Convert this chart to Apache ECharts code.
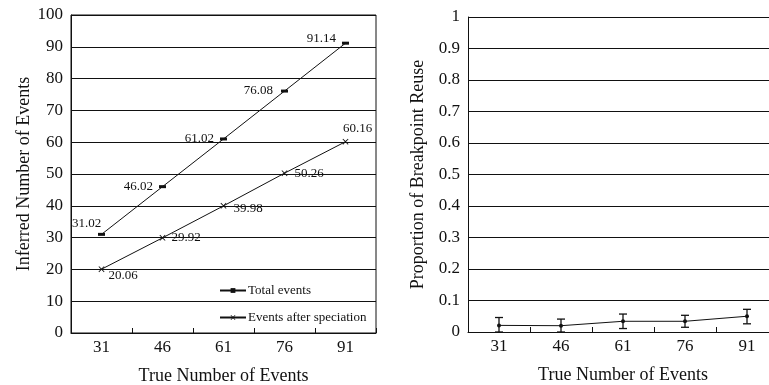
<!DOCTYPE html>
<html>
<head>
<meta charset="utf-8">
<script src="https://cdn.jsdelivr.net/npm/echarts@6/dist/echarts.min.js"></script>
<style>
    html, body { margin: 0; padding: 0; background: #fff; }
    #chart { width: 769px; height: 385px; }
</style>
</head>
<body>
<div id="chart"></div>
<script>
// 数据
const categories = ['31', '46', '61', '76', '91']
const totalEvents = [31.02, 46.02, 61.02, 76.08, 91.14]
const afterSpeciation = [20.06, 29.92, 39.98, 50.26, 60.16]
const reuseMean = [0.021, 0.020, 0.034, 0.034, 0.050]
const reuseLow = [0.0, 0.0, 0.011, 0.015, 0.026]
const reuseHigh = [0.046, 0.041, 0.057, 0.053, 0.072]

const FONT = 'Liberation Serif'
const INK = '#111'

// 每个标签的位置
const totalLabelPos = [
    { position: 'top', distance: 3, offset: [-15, 0] },
    { position: 'left', distance: 6 },
    { position: 'left', distance: 6 },
    { position: 'left', distance: 8 },
    { position: 'left', distance: 6, offset: [0, -5] }
]
const afterLabelPos = [
    { position: 'right', distance: 4, offset: [0, 6] },
    { position: 'right', distance: 6 },
    { position: 'right', distance: 7, offset: [0, 3] },
    { position: 'right', distance: 7 },
    { position: 'top', distance: 4, offset: [12, 0] }
]

const crossSymbol = 'path://M0,1L1,0L5,4L9,0L10,1L6,5L10,9L9,10L5,6L1,10L0,9L4,5Z'

function axisCommon() {
    return {
        axisLine: { show: true, lineStyle: { color: INK, width: 1 } },
        axisLabel: { color: INK, fontFamily: FONT, fontSize: 17 },
        nameTextStyle: { color: INK, fontFamily: FONT, fontSize: 18 },
        splitLine: { show: true, lineStyle: { color: INK, width: 1 } }
    }
}

function xAxis(gridIndex) {
    let base = axisCommon()
    return Object.assign(base, {
        type: 'category',
        gridIndex: gridIndex,
        data: categories,
        boundaryGap: true,
        name: 'True Number of Events',
        nameLocation: 'middle',
        nameGap: 34,
        axisTick: { show: true, inside: true, length: 5, lineStyle: { color: INK, width: 1 } },
        axisLabel: Object.assign(base.axisLabel, { margin: 6 }),
        splitLine: { show: false }
    })
}

function yAxis(gridIndex, max, interval, name, gap, fmt) {
    let base = axisCommon()
    return Object.assign(base, {
        type: 'value',
        gridIndex: gridIndex,
        min: 0,
        max: max,
        interval: interval,
        name: name,
        nameLocation: 'middle',
        nameGap: gap,
        axisTick: { show: false },
        axisLabel: Object.assign(base.axisLabel, { margin: 8, formatter: fmt })
    })
}

let chart = echarts.init(document.getElementById('chart'), null, { renderer: 'canvas' })

let option = {
    animation: false,
    backgroundColor: '#fff',
    textStyle: { fontFamily: FONT },
    grid: [
        { left: 71, top: 15, width: 305, height: 318, show: true, borderColor: INK, borderWidth: 1, outerBoundsMode: 'none' },
        { left: 468, top: 17, width: 310, height: 315, outerBoundsMode: 'none' }
    ],
    legend: {
        left: 214,
        top: 279,
        orient: 'vertical',
        itemWidth: 26,
        itemHeight: 6,
        itemGap: 14,
        textStyle: { color: INK, fontFamily: FONT, fontSize: 13, padding: [0, 0, 0, -3] },
        data: ['Total events', 'Events after speciation']
    },
    xAxis: [xAxis(0), xAxis(1)],
    yAxis: [
        yAxis(0, 100, 10, 'Inferred Number of Events', 35),
        yAxis(1, 1, 0.1, 'Proportion of Breakpoint Reuse', 41, v => String(Math.round(v * 10) / 10))
    ],
    series: [
        {
            name: 'Total events',
            type: 'line',
            xAxisIndex: 0,
            yAxisIndex: 0,
            symbol: 'rect',
            symbolSize: [7, 3],
            itemStyle: { color: INK },
            lineStyle: { color: INK, width: 1 },
            label: { show: true, color: INK, fontFamily: FONT, fontSize: 13 },
            data: totalEvents.map((v, i) => ({ value: v, label: totalLabelPos[i] }))
        },
        {
            name: 'Events after speciation',
            type: 'line',
            xAxisIndex: 0,
            yAxisIndex: 0,
            symbol: crossSymbol,
            symbolSize: 6,
            itemStyle: { color: INK },
            lineStyle: { color: INK, width: 1 },
            label: { show: true, color: INK, fontFamily: FONT, fontSize: 13 },
            data: afterSpeciation.map((v, i) => ({ value: v, label: afterLabelPos[i] }))
        },
        {
            name: 'reuse',
            type: 'line',
            xAxisIndex: 1,
            yAxisIndex: 1,
            symbol: 'circle',
            symbolSize: 4,
            itemStyle: { color: INK },
            lineStyle: { color: INK, width: 1 },
            data: reuseMean
        },
        {
            name: 'reuseError',
            type: 'custom',
            xAxisIndex: 1,
            yAxisIndex: 1,
            data: categories.map((c, i) => [i, reuseLow[i], reuseHigh[i]]),
            renderItem: function (params, api) {
                let lo = api.coord([api.value(0), api.value(1)])
                let hi = api.coord([api.value(0), api.value(2)])
                let half = 4
                let style = { stroke: INK, lineWidth: 1.3 }
                return {
                    type: 'group',
                    children: [
                        { type: 'line', shape: { x1: hi[0], y1: hi[1], x2: lo[0], y2: lo[1] }, style: style },
                        { type: 'line', shape: { x1: hi[0] - half, y1: hi[1], x2: hi[0] + half, y2: hi[1] }, style: style },
                        { type: 'line', shape: { x1: lo[0] - half, y1: lo[1], x2: lo[0] + half, y2: lo[1] }, style: style }
                    ]
                }
            },
            z: 3
        }
    ]
}

chart.setOption(option)
</script>
</body>
</html>
